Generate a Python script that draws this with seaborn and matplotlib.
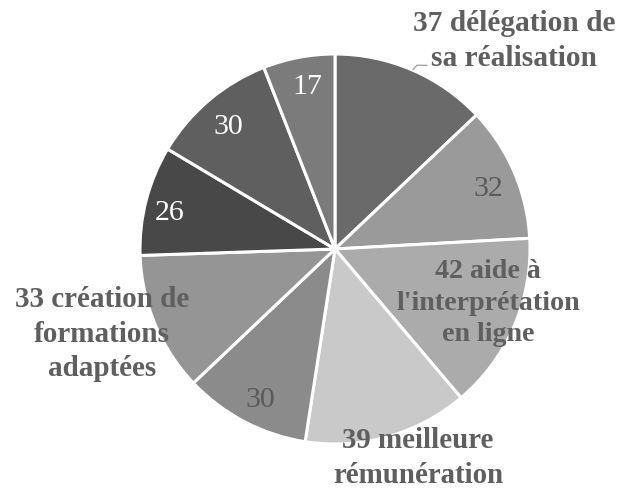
import matplotlib
matplotlib.use("Agg")
import matplotlib.pyplot as plt
import seaborn as sns

# Responses, clockwise from 12 o'clock
values = [37, 32, 42, 39, 30, 33, 26, 30, 17]
categories = ["délégation de\nsa réalisation", "", "aide à\nl'interprétation\nen ligne",
              "meilleure\nrémunération", "", "création de\nformations\nadaptées", "", "", ""]
slice_colors = ["#6a6a6a", "#9a9a9a", "#ababab", "#c9c9c9", "#8b8b8b",
                "#959595", "#484848", "#5f5f5f", "#7b7b7b"]

# label placement (data units, pie radius = 1) and styling per slice
label_pos = [(0.918, 1.072), (0.785, 0.313), (0.785, -0.272), (0.426, -1.067),
             (-0.385, -0.769), (-1.195, -0.431), (-0.846, 0.190), (-0.549, 0.631),
             (-0.144, 0.836)]
label_colors = ["#5f5f5f", "#5a5a5a", "#5f5f5f", "#5f5f5f", "#5a5a5a",
                "#5f5f5f", "white", "white", "white"]
label_sizes = [21.2, 21.5, 20.2, 20.8, 21.5, 21.0, 21.5, 21.5, 21.5]

sns.set_theme(style="white")
plt.rcParams["font.family"] = ["Liberation Serif", "DejaVu Serif"]

fig = plt.figure(figsize=(6.19, 4.89), dpi=100)
ax = fig.add_axes([0, 0, 1, 1])

ax.pie(values, colors=slice_colors, startangle=90, counterclock=False,
       radius=1.0, center=(0, 0),
       wedgeprops=dict(edgecolor="white", linewidth=2.2))

for v, name, (x, y), c, fs in zip(values, categories, label_pos, label_colors, label_sizes):
    if name:
        ax.text(x, y, f"{v} {name}", ha="center", va="center", fontsize=fs,
                fontweight="bold", color=c, linespacing=1.36)
    else:
        ax.text(x, y, f"{v}", ha="center", va="center", fontsize=fs, color=c)

# leader line for the top label
ax.plot([0.40, 0.42, 0.47], [0.92, 0.942, 0.942], color="#a6a6a6", lw=1.0)

ax.set_xlim(-335 / 195, (619 - 335) / 195)
ax.set_ylim(-(489 - 250) / 195, 250 / 195)
ax.set_aspect("equal")
ax.axis("off")

fig.savefig("out.png", dpi=100)
